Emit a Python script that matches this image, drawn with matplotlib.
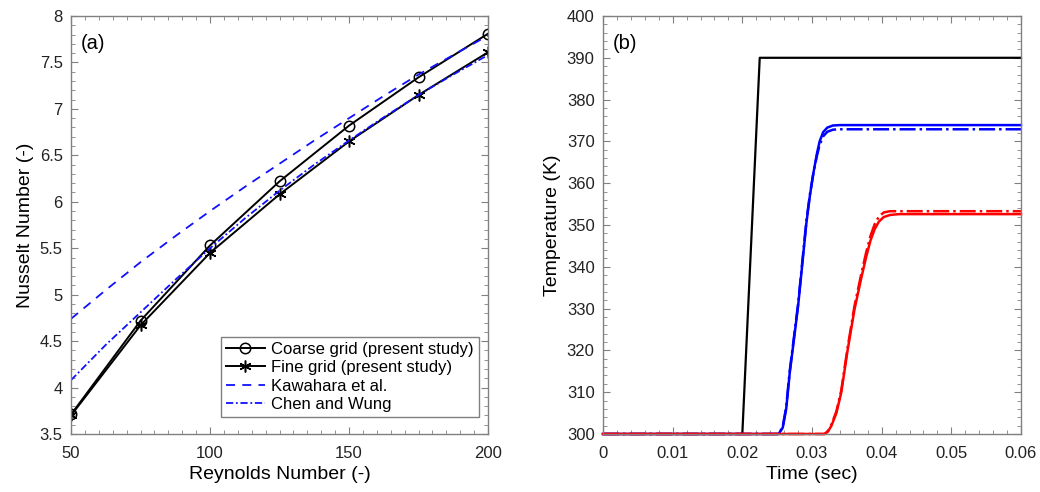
import numpy as np
import matplotlib.pyplot as plt
from matplotlib.ticker import MultipleLocator

plt.rcParams['font.family'] = ['Liberation Sans', 'DejaVu Sans']

# ---------------- (a) Nusselt number vs Reynolds number ----------------
re_grid = [50, 75, 100, 125, 150, 175, 200]
nu_coarse = [3.71, 4.72, 5.53, 6.22, 6.82, 7.34, 7.81]
nu_fine = [3.70, 4.67, 5.45, 6.08, 6.65, 7.15, 7.61]

re_corr = [50, 62.5, 75, 87.5, 100, 112.5, 125, 137.5, 150, 162.5, 175, 187.5, 200]
nu_kawahara = [4.74, 5.05, 5.35, 5.63, 5.90, 6.16, 6.41, 6.66, 6.90, 7.14, 7.37, 7.58, 7.79]
nu_chen = [4.08, 4.46, 4.81, 5.16, 5.50, 5.82, 6.12, 6.40, 6.66, 6.91, 7.15, 7.37, 7.58]

# ---------------- (b) Temperature vs time ----------------
t_black = [0, 0.0200, 0.0225, 0.060]
T_black = [300, 300, 390, 390]

t_blue = [0, 0.0252, 0.0258, 0.0263, 0.0268, 0.0274, 0.0280, 0.0286, 0.0292,
          0.0297, 0.0302, 0.0307, 0.0311, 0.0316, 0.0322, 0.0330, 0.0340, 0.060]
T_blue = [300, 300, 301.5, 306, 314.5, 322.5, 330.5, 340.5, 350.5,
          357, 362.4, 367, 370, 372.2, 373.3, 373.8, 373.9, 373.9]
T_blue_dd = [300, 300, 301.7, 306.5, 315, 323, 331, 341, 351,
             357.3, 362.4, 366.5, 369.2, 371.2, 372.3, 372.8, 372.9, 372.9]

t_red = [0, 0.0318, 0.0323, 0.0328, 0.0335, 0.0342, 0.0351, 0.0361, 0.0371,
         0.0378, 0.0384, 0.0390, 0.0396, 0.0403, 0.0412, 0.0425, 0.060]
T_red = [300, 300, 300.6, 302, 305, 309.9, 319.9, 329.8, 337.5,
         342.5, 346.3, 349, 350.8, 351.9, 352.4, 352.6, 352.6]
T_red_dd = [300, 300, 300.7, 302.3, 305.4, 310.4, 320.5, 330.6, 338.5,
            343.6, 347.4, 350.2, 352, 353, 353.3, 353.3, 353.3]

fig = plt.figure(figsize=(10.4, 4.92), dpi=100)
ax1 = fig.add_axes([0.0683, 0.1179, 0.4010, 0.8496])
ax2 = fig.add_axes([0.5798, 0.1179, 0.4019, 0.8496])

spine_col = '#808080'


def style_axes(ax):
    for s in ax.spines.values():
        s.set_color(spine_col)
        s.set_linewidth(1.0)
    ax.tick_params(which='both', direction='in', top=True, right=True,
                   color=spine_col, labelsize=12, labelcolor='#222222')
    ax.tick_params(which='major', length=5)
    ax.tick_params(which='minor', length=3)
    ax.tick_params(axis='x', which='major', pad=9)
    ax.tick_params(axis='y', which='major', pad=6)


ax1.plot(re_grid, nu_coarse, '-', color='black', lw=1.4, marker='o',
         markersize=7.5, markerfacecolor='none', markeredgewidth=1.1,
         label='Coarse grid (present study)')
ax1.plot(re_grid, nu_fine, '-', color='black', lw=1.4, marker=(6, 2, 0),
         markersize=8.5, markeredgewidth=1.1, label='Fine grid (present study)')
ax1.plot(re_corr, nu_kawahara, '--', color='#1010ff', lw=1.3,
         dashes=(5, 4), label='Kawahara et al.')
ax1.plot(re_corr, nu_chen, '-.', color='#1010ff', lw=1.3,
         dashes=(4, 1.5, 1, 1.5), label='Chen and Wung')

ax1.set_xlim(50, 200)
ax1.set_ylim(3.5, 8)
ax1.xaxis.set_major_locator(MultipleLocator(50))
ax1.xaxis.set_minor_locator(MultipleLocator(5))
ax1.yaxis.set_minor_locator(MultipleLocator(0.1))
ax1.set_yticks([3.5, 4, 4.5, 5, 5.5, 6, 6.5, 7, 7.5, 8])
ax1.set_yticklabels(['3.5', '4', '4.5', '5', '5.5', '6', '6.5', '7', '7.5', '8'])
ax1.set_xlabel('Reynolds Number (-)', fontsize=14, labelpad=3)
ax1.set_ylabel('Nusselt Number (-)', fontsize=14)
ax1.text(0.024, 0.935, '(a)', transform=ax1.transAxes, fontsize=14.5, va='center')
style_axes(ax1)
leg = ax1.legend(loc='lower right', bbox_to_anchor=(0.978, 0.041), borderaxespad=0,
                 fontsize=12, fancybox=False, framealpha=1, edgecolor=spine_col,
                 handlelength=2.3, handletextpad=0.4, borderpad=0.3,
                 labelspacing=0.2)
leg.get_frame().set_linewidth(1.0)

# time traces, drawn unclipped so the 300 K baseline sits over the spine
ax2.plot(t_black, T_black, '-', color='black', lw=1.6, clip_on=False)
ax2.plot(t_blue, T_blue_dd, '-.', color='#0000ff', lw=1.8, clip_on=False)
ax2.plot(t_blue, T_blue, '-', color='#0000ff', lw=1.8, clip_on=False)
ax2.plot(t_red, T_red_dd, '-.', color='#ff0000', lw=1.8, clip_on=False)
ax2.plot(t_red, T_red, '-', color='#ff0000', lw=1.8, clip_on=False)

ax2.set_xlim(0, 0.06)
ax2.set_ylim(300, 400)
ax2.set_xticks([0, 0.01, 0.02, 0.03, 0.04, 0.05, 0.06])
ax2.set_xticklabels(['0', '0.01', '0.02', '0.03', '0.04', '0.05', '0.06'])
ax2.xaxis.set_minor_locator(MultipleLocator(0.002))
ax2.yaxis.set_major_locator(MultipleLocator(10))
ax2.yaxis.set_minor_locator(MultipleLocator(2))
ax2.set_xlabel('Time (sec)', fontsize=14, labelpad=3)
ax2.set_ylabel('Temperature (K)', fontsize=14)
ax2.text(0.024, 0.935, '(b)', transform=ax2.transAxes, fontsize=14.5, va='center')
style_axes(ax2)

fig.savefig('out.png', dpi=100)
